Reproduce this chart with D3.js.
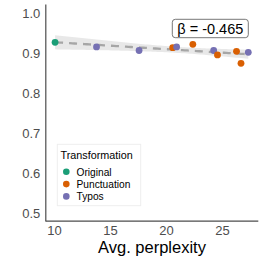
<!DOCTYPE html>
<html><head><meta charset="utf-8">
<script src="https://cdn.jsdelivr.net/npm/d3@7"></script>
<style>body{margin:0;background:#fff}svg{display:block;font-family:"Liberation Sans",Arial,sans-serif}</style>
</head><body><svg id="c" width="262" height="262"></svg>
<script>
const categories = ["Original","Punctuation","Typos"];
const colors = ["#1B9E77","#D95F02","#7570B3"];
const perplexity = [10.1, 13.8, 17.6, 20.6, 20.95, 22.4, 24.26, 24.6, 26.3, 26.7, 27.35];
const accuracy   = [0.9275, 0.916, 0.907, 0.914, 0.916, 0.9225, 0.907, 0.896, 0.905, 0.875, 0.9025];
const group      = ["Original","Typos","Typos","Punctuation","Typos","Punctuation","Typos","Punctuation","Punctuation","Punctuation","Typos"];
const xTicks = [10,15,20,25];
const yTicks = [0.5,0.6,0.7,0.8,0.9,1.0];
const betaLabel = "β = -0.465";

const svg = d3.select("#c");
const x = d3.scaleLinear().domain([9.2,28.2]).range([45,257.8]);
const y = d3.scaleLinear().domain([0.4815,1.023]).range([220.7,4.1]);
const col = d3.scaleOrdinal().domain(categories).range(colors);

// linear regression with 95% CI
const n = perplexity.length;
const mx = d3.mean(perplexity), my = d3.mean(accuracy);
let sxx=0, sxy=0;
for(let i=0;i<n;i++){sxx+=(perplexity[i]-mx)**2; sxy+=(perplexity[i]-mx)*(accuracy[i]-my);}
const b = sxy/sxx, a = my - b*mx;
let sse=0; for(let i=0;i<n;i++){sse+=(accuracy[i]-a-b*perplexity[i])**2;}
const s = Math.sqrt(sse/(n-2)), tq = 2.262;
const xs = d3.range(80).map(i=>d3.min(perplexity)+i*(d3.max(perplexity)-d3.min(perplexity))/79);
const band = xs.map(v=>{const se=s*Math.sqrt(1/n+(v-mx)**2/sxx);const f=a+b*v;return {x:v,lo:f-tq*se,hi:f+tq*se,f};});
svg.append("path").datum(band)
  .attr("d", d3.area().x(d=>x(d.x)).y0(d=>y(d.lo)).y1(d=>y(d.hi)))
  .attr("fill","#d9d9d9").attr("opacity",0.6);
svg.append("path").datum(band)
  .attr("d", d3.line().x(d=>x(d.x)).y(d=>y(d.f)))
  .attr("fill","none").attr("stroke","#a6a6a6").attr("stroke-width",2.3).attr("stroke-dasharray","8,6");

// points
svg.append("g").selectAll("circle").data(perplexity.map((v,i)=>({x:v,y:accuracy[i],g:group[i]})))
  .join("circle").attr("cx",d=>x(d.x)).attr("cy",d=>y(d.y)).attr("r",3.4).attr("fill",d=>col(d.g));

// axes
const xa = svg.append("g").attr("transform","translate(0,220.7)")
  .call(d3.axisBottom(x).tickValues(xTicks).tickSize(0).tickPadding(5).tickFormat(d3.format("d")));
const ya = svg.append("g").attr("transform","translate(45.3,0)")
  .call(d3.axisLeft(y).tickValues(yTicks).tickSize(0).tickPadding(5).tickFormat(d3.format(".1f")));
[xa,ya].forEach(g=>{
  g.select(".domain").attr("stroke","#4d4d4d").attr("stroke-width",1.2);
  g.selectAll("text").attr("fill","#4d4d4d").attr("font-size",13).attr("font-family","Liberation Sans, Arial, sans-serif");
});
svg.append("text").attr("x",152).attr("y",253).attr("text-anchor","middle")
  .attr("font-size",16.5).attr("fill","#000").text("Avg. perplexity");

// beta label
const bg = svg.append("g");
bg.append("rect").attr("x",172.3).attr("y",19.3).attr("width",76).attr("height",18.4).attr("rx",3)
  .attr("fill","#fff").attr("stroke","#555").attr("stroke-width",0.8);
bg.append("text").attr("x",210.3).attr("y",33.5).attr("text-anchor","middle").attr("font-size",14.5).attr("fill","#000").text(betaLabel);

// legend
const lg = svg.append("g");
lg.append("rect").attr("x",57.3).attr("y",144.3).attr("width",83.4).attr("height",61.4)
  .attr("fill","#fff").attr("stroke","#eeeeee").attr("stroke-width",1);
lg.append("text").attr("x",60.5).attr("y",159).attr("font-size",10.8).attr("fill","#000").text("Transformation");
categories.forEach((c,i)=>{
  const yy = 171.8 + i*12.3;
  lg.append("circle").attr("cx",66.3).attr("cy",yy).attr("r",3.3).attr("fill",colors[i]);
  lg.append("text").attr("x",76.5).attr("y",yy+3.7).attr("font-size",10.2).attr("fill","#000").text(c);
});
</script></body></html>
